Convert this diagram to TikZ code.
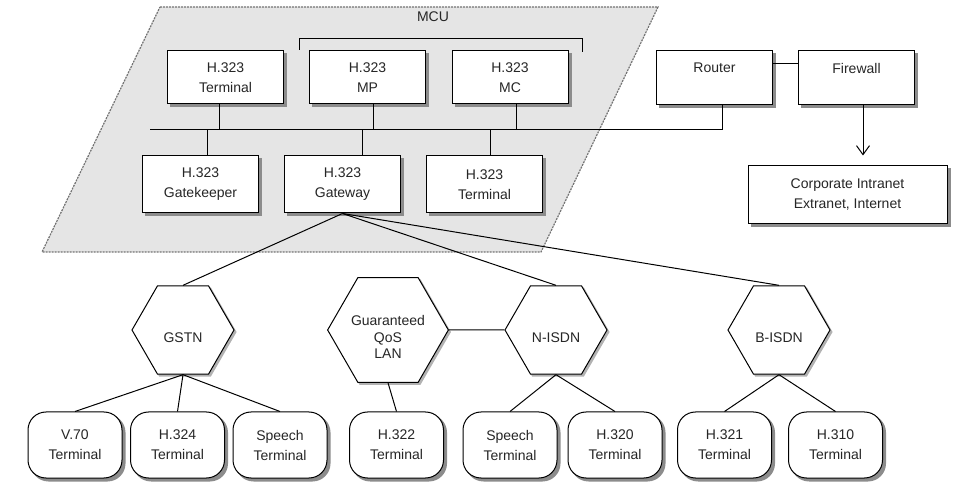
\documentclass[tikz,border=0pt]{standalone}
\usepackage{fontspec}
\setmainfont{Liberation Sans}
\usetikzlibrary{shapes.geometric,arrows.meta,backgrounds}
\newcommand\netlabel[1]{\raisebox{-9pt}[\height][\depth]{\begin{tabular}{@{}c@{}}#1\end{tabular}}}

\begin{document}
\begin{tikzpicture}[x=1pt,y=-1pt,line width=1pt,
    every node/.style={font=\fontsize{14}{20}\selectfont,text=black!85},
    unitbox/.style={draw,fill=white,minimum width=116pt,minimum height=53pt,align=center},
    termbox/.style={draw,fill=white,rounded corners=18pt,minimum width=94pt,minimum height=66pt,align=center},
    hexnet/.style={draw,fill=white,regular polygon,regular polygon sides=6,
      minimum size=102pt,inner sep=0pt,font=\fontsize{14}{16.5}\selectfont},
    boxshade/.style={fill=black!45,draw=none}]
                    \useasboundingbox (0,0) rectangle (954,486);
                    \node (mcu) at (433,17) {MCU};
                    \draw (299,50) |- (582,39) -- (582,52);

                    \node[unitbox] (hterm) at (225.5,77.5) {H.323\\Terminal};
                    \node[unitbox] (mp) at (367.5,77.5) {H.323\\MP};
                    \node[unitbox] (mc) at (510,77.5) {H.323\\MC};
                    \node[unitbox,minimum height=54pt] (router) at (714.5,78) {Router\\\mbox{}};
                    \node[unitbox,minimum height=54pt] (firewall) at (856.5,78) {Firewall\\\mbox{}};
                    \node[unitbox,minimum height=57pt] (gatekeeper) at (200.5,184.5) {H.323\\Gatekeeper};
                    \node[unitbox,minimum height=57pt] (gateway) at (342.5,184.5) {H.323\\Gateway};
                    \node[unitbox,minimum height=57pt] (hterm2) at (484.5,184.5) {H.323\\Terminal};
                    \node[unitbox,minimum width=199pt,minimum height=58pt] (corp) at (847.5,195) {Corporate Intranet\\Extranet, Internet};

                    \coordinate (bus) at (150,130);
                    \draw (bus) -| ([xshift=7.5pt]router.south);
                    \draw ([xshift=-6.5pt]hterm.south) -- ([xshift=-6.5pt]hterm.south |- bus);
                    \draw ([xshift=5.5pt]mp.south) -- ([xshift=5.5pt]mp.south |- bus);
                    \draw ([xshift=6pt]mc.south) -- ([xshift=6pt]mc.south |- bus);
                    \draw ([xshift=6.5pt]gatekeeper.north) -- ([xshift=6.5pt]gatekeeper.north |- bus);
                    \draw ([xshift=19.5pt]gateway.north) -- ([xshift=19.5pt]gateway.north |- bus);
                    \draw ([xshift=5.5pt]hterm2.north) -- ([xshift=5.5pt]hterm2.north |- bus);
                    \draw ([yshift=-13pt]router.north east) -- ([yshift=-13pt]router.north east -| firewall.west);
                    \draw[-{Straight Barb[length=9pt,width=13pt]},shorten >=10pt] ([xshift=6.5pt]firewall.south) -- ([xshift=6.5pt]firewall.south |- corp.north);

                    \node[hexnet] (gstn) at (183,330) {\netlabel{GSTN}};
                    \node[hexnet] (qos) at (388,330) {\netlabel{Guaranteed\\QoS\\LAN}};
                    \node[hexnet] (nisdn) at (556,330) {\netlabel{N-ISDN}};
                    \node[hexnet] (bisdn) at (779,330) {\netlabel{B-ISDN}};

                    \node[termbox] (v70) at (75,445) {V.70\\Terminal};
                    \node[termbox] (h324) at (177.5,445) {H.324\\Terminal};
                    \node[termbox] (speech1) at (280,445) {Speech\\Terminal};
                    \node[termbox] (h322) at (396.5,445) {H.322\\Terminal};
                    \node[termbox] (speech2) at (510,445) {Speech\\Terminal};
                    \node[termbox] (h320) at (615,445) {H.320\\Terminal};
                    \node[termbox] (h321) at (724.5,445) {H.321\\Terminal};
                    \node[termbox] (h310) at (835.5,445) {H.310\\Terminal};

                    \draw (gateway.south) -- (gstn.north);
                    \draw (gateway.south) -- (nisdn.north);
                    \draw (gateway.south) -- (bisdn.north);
                    \draw (qos.east) -- (nisdn.west);
                    \draw (gstn.south) -- (v70.north);
                    \draw (gstn.south) -- (h324.north);
                    \draw (gstn.south) -- (speech1.north);
                    \draw (qos.south) -- (h322.north);
                    \draw (nisdn.south) -- (speech2.north);
                    \draw (nisdn.south) -- (h320.north);
                    \draw (bisdn.south) -- (h321.north);
                    \draw (bisdn.south) -- (h310.north);

                    \begin{scope}[on background layer]
                    \draw[fill=black!10,draw=black!55,dash pattern=on 2pt off 1pt,line width=1.2pt] (160,7) -- (658,7) -- (541,252) -- (42,252) -- cycle;
                    \foreach \n in {hterm,mp,mc,router,firewall,gatekeeper,gateway,hterm2,corp}
                      \fill[boxshade] ([shift={(3,3)}]\n.south west) rectangle ([shift={(3,3)}]\n.north east);
                    \foreach \n in {v70,h324,speech1,h322,speech2,h320,h321,h310}
                      \fill[boxshade,rounded corners=18pt] ([shift={(3,3)}]\n.south west) rectangle ([shift={(3,3)}]\n.north east);
                    \foreach \n in {gstn,qos,nisdn,bisdn}
                      \fill[boxshade,fill=black!30] ([shift={(2,2)}]\n.corner 1) \foreach \k in {2,...,6}{ -- ([shift={(2,2)}]\n.corner \k)} -- cycle;
                    \end{scope}
                \end{tikzpicture}
\end{document}
